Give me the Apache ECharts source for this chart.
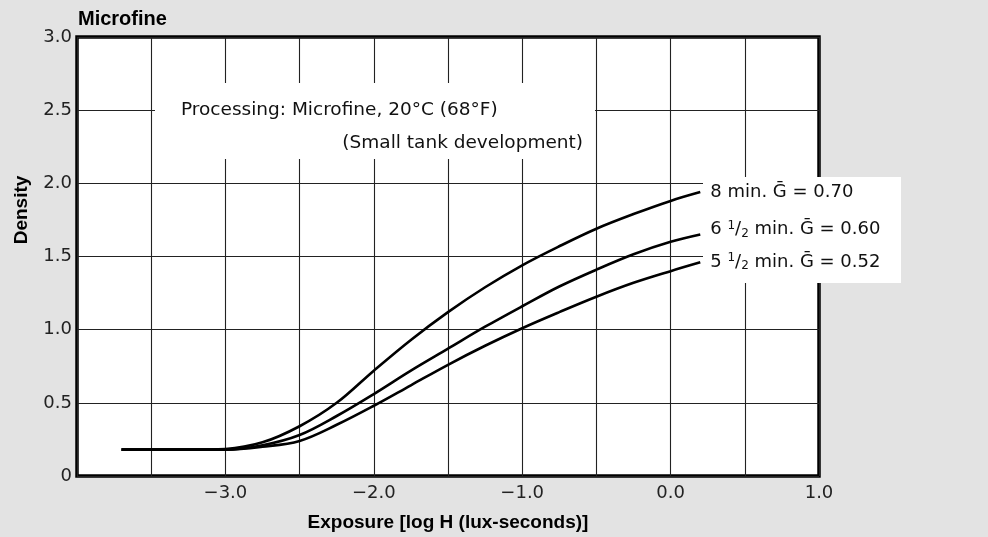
<!DOCTYPE html>
<html>
<head>
<meta charset="utf-8">
<script src="https://cdn.jsdelivr.net/npm/echarts@6/dist/echarts.min.js"></script>
<style>
  html, body { margin: 0; padding: 0; background: #e3e3e3; }
  #chart { width: 988px; height: 537px; }
</style>
</head>
<body>
<div id="chart"></div>
<script>
// ---- data ----
const exposure = [-3.7, -3.5, -3.25, -3.0, -2.75, -2.5, -2.25, -2.0, -1.75, -1.5, -1.25, -1.0, -0.75, -0.5, -0.25, 0.0, 0.2];
const dens8min  = [0.18, 0.18, 0.18, 0.185, 0.23, 0.34, 0.50, 0.72, 0.93, 1.12, 1.29, 1.44, 1.57, 1.69, 1.79, 1.88, 1.94];
const dens65min = [0.18, 0.18, 0.18, 0.18, 0.21, 0.28, 0.41, 0.56, 0.72, 0.87, 1.02, 1.16, 1.295, 1.41, 1.515, 1.60, 1.65];
const dens55min = [0.18, 0.18, 0.18, 0.18, 0.20, 0.24, 0.35, 0.48, 0.62, 0.76, 0.89, 1.01, 1.12, 1.225, 1.32, 1.40, 1.46];
const curveLabels = ['8 min. Ḡ = 0.70', '6 {sup|1}/{sub|2} min. Ḡ = 0.60', '5 {sup|1}/{sub|2} min. Ḡ = 0.52'];
const xTickValues = [-3, -2, -1, 0, 1];
const xTickLabels = ['−3.0', '−2.0', '−1.0', '0.0', '1.0'];
const yTickValues = [0, 0.5, 1, 1.5, 2, 2.5, 3];
const yTickLabels = ['0', '0.5', '1.0', '1.5', '2.0', '2.5', '3.0'];
const chartTitle = 'Microfine';
const xTitle = 'Exposure [log H (lux-seconds)]';
const yTitle = 'Density';
const noteLine1 = 'Processing: Microfine, 20°C (68°F)';
const noteLine2 = '(Small tank development)';

const FONT = "'DejaVu Sans', 'Liberation Sans', Arial, sans-serif";
const BOLD = "'Liberation Sans Narrow', 'Liberation Sans', Arial, sans-serif";

const chart = echarts.init(document.getElementById('chart'), null, { renderer: 'canvas' });

function pairs(ys) { return exposure.map((x, i) => [x, ys[i]]); }

const richLabel = {
  sup: { fontSize: 12, fontFamily: FONT, color: '#111', verticalAlign: 'top', lineHeight: 20, padding: [0, 0, 8, 0] },
  sub: { fontSize: 12, fontFamily: FONT, color: '#111', verticalAlign: 'bottom', lineHeight: 20, padding: [6, 0, 0, 0] }
};

function lineSeries(name, ys, dy) {
  return {
    type: 'line',
    name: name,
    data: pairs(ys),
    smooth: 0.35,
    symbol: 'none',
    lineStyle: { color: '#000', width: 2.6 },
    z: 5,
    endLabel: {
      show: true,
      formatter: name,
      distance: 10,
      offset: [0, dy],
      color: '#111',
      fontSize: 18,
      fontFamily: FONT,
      rich: richLabel
    }
  };
}

const option = {
  backgroundColor: '#e3e3e3',
  animation: false,
  grid: {
    left: 77, right: 169, top: 37, bottom: 60,
    show: true,
    backgroundColor: '#ffffff',
    borderColor: '#000',
    borderWidth: 3.5
  },
  xAxis: {
    type: 'value',
    min: -4, max: 1, interval: 0.5,
    axisLine: { show: false },
    axisTick: { show: false },
    splitLine: { show: true, lineStyle: { color: '#222', width: 1.1 } },
    axisLabel: {
      color: '#222', fontSize: 18, fontFamily: FONT, margin: 8,
      formatter: function (v) {
        const i = xTickValues.findIndex(t => Math.abs(t - v) < 1e-9);
        return i >= 0 ? xTickLabels[i] : '';
      }
    },
    name: xTitle,
    nameLocation: 'middle',
    nameGap: 37,
    nameTextStyle: { color: '#000', fontSize: 19, fontWeight: 'bold', fontFamily: BOLD }
  },
  yAxis: {
    type: 'value',
    min: 0, max: 3, interval: 0.5,
    axisLine: { show: false },
    axisTick: { show: false },
    splitLine: { show: true, lineStyle: { color: '#222', width: 1.1 } },
    axisLabel: {
      color: '#222', fontSize: 18, fontFamily: FONT, margin: 5,
      formatter: function (v) {
        const i = yTickValues.findIndex(t => Math.abs(t - v) < 1e-9);
        return i >= 0 ? yTickLabels[i] : '';
      }
    }
  },
  graphic: [
    { type: 'rect', z: 1, shape: { x: 155, y: 83, width: 440, height: 76 }, style: { fill: '#fff' } },
    { type: 'rect', z: 1, shape: { x: 703, y: 177, width: 198, height: 106 }, style: { fill: '#fff' } },
    { type: 'text', z: 6, x: 181, y: 110, style: { text: noteLine1, fill: '#111', fontSize: 18.5, fontFamily: FONT, textVerticalAlign: 'middle', verticalAlign: 'middle' } },
    { type: 'text', z: 6, x: 583, y: 143, style: { text: noteLine2, fill: '#111', fontSize: 18.5, fontFamily: FONT, align: 'right', textAlign: 'right', verticalAlign: 'middle', textVerticalAlign: 'middle' } },
    { type: 'text', z: 6, x: 78, y: 19, style: { text: chartTitle, fill: '#000', fontSize: 20, fontWeight: 'bold', fontFamily: BOLD, verticalAlign: 'middle', textVerticalAlign: 'middle' } },
    { type: 'text', z: 6, x: 22, y: 210, rotation: Math.PI / 2, style: { text: yTitle, fill: '#000', fontSize: 19, fontWeight: 'bold', fontFamily: BOLD, align: 'center', textAlign: 'center', verticalAlign: 'middle', textVerticalAlign: 'middle' } }
  ],
  series: [
    lineSeries(curveLabels[0], dens8min, 0),
    lineSeries(curveLabels[1], dens65min, -5),
    lineSeries(curveLabels[2], dens55min, 0)
  ]
};

chart.setOption(option);
</script>
</body>
</html>
